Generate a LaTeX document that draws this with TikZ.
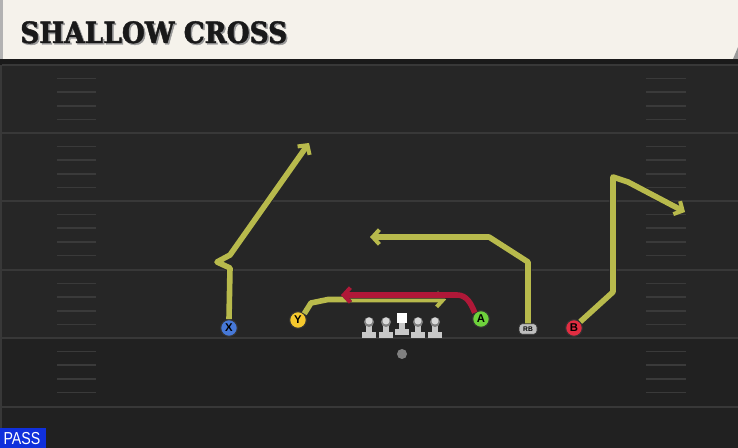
\documentclass[tikz,border=0pt]{standalone}
\usepackage{fontspec}
\usepackage{tikz}
\usetikzlibrary{arrows.meta, positioning}
\newfontfamily\titlefont{DejaVu Serif}[FakeStretch=0.9, FakeBold=1.6]
\newfontfamily\labelfont{Liberation Sans}
\newfontfamily\passfont{Liberation Sans}[FakeStretch=0.82]
\definecolor{cream}{RGB}{245,242,235}
\definecolor{headband}{RGB}{26,26,26}
\definecolor{field}{RGB}{38,38,38}
\definecolor{fieldlow}{RGB}{33,33,33}
\definecolor{yardline}{RGB}{56,56,56}
\definecolor{hashmark}{RGB}{58,58,58}
\definecolor{routeolive}{RGB}{184,186,76}
\definecolor{blockred}{RGB}{176,24,56}
\definecolor{xblue}{RGB}{70,120,215}
\definecolor{yyellow}{RGB}{245,200,45}
\definecolor{agreen}{RGB}{110,210,60}
\definecolor{bred}{RGB}{225,45,65}
\definecolor{rbgray}{RGB}{190,190,190}
\definecolor{olgray}{RGB}{200,200,200}
\definecolor{passblue}{RGB}{16,48,220}

\begin{document}
\begin{tikzpicture}[x=0.75pt, y=-0.75pt,
    player/.style={circle, draw=black!80, line width=0.8pt, inner sep=0pt, minimum size=12.5pt,
        font=\labelfont\bfseries\fontsize{8.5}{8.5}\selectfont},
    route/.style={draw=#1, line width=4.2pt, line join=round,
        -{Straight Barb[length=5pt, width=11pt, line width=3pt]},
        preaction={draw=black!85, line width=5.6pt}},
    route/.default=routeolive,
    yard/.style={draw=yardline, line width=1.3pt},
    hash/.style={draw=hashmark, line width=1.1pt}]
    \useasboundingbox (0,0) rectangle (738,448);

    % Campo
    \fill[field] (0,59) rectangle (738,338);
    \fill[fieldlow] (0,338) rectangle (738,448);
    \fill[headband] (0,59) rectangle (738,65);
    \draw[yardline, line width=1.3pt] (1,65) -- (1,448);
    \foreach \yl in {65,133,201,270,338,407}
        \draw[yard] (2,\yl) -- (738,\yl);
    \foreach \yl in {65,133,201,270,338}
        \foreach \k in {1,...,4} {
            \draw[hash] (57,{\yl+13.6*\k}) -- (96,{\yl+13.6*\k});
            \draw[hash] (646,{\yl+13.6*\k}) -- (686,{\yl+13.6*\k});
        }

    % Cabecera
    \fill[cream] (0,0) -- (738,0) -- (738,47) -- (733,59) -- (0,59) -- cycle;
    \fill[black!40] (738,47) -- (738,59) -- (733,59) -- cycle;
    \fill[black!30] (0,0) rectangle (3,59);
    \node[anchor=base west, inner sep=0pt, text=black!40,
          font=\titlefont\bfseries\fontsize{22}{22}\selectfont] at (21.5,44.5) {SHALLOW CROSS};
    \node[anchor=base west, inner sep=0pt, text=black!90,
          font=\titlefont\bfseries\fontsize{22}{22}\selectfont] (title) at (20,43) {SHALLOW CROSS};

    % Linea ofensiva
    \foreach \lx in {369,386,418,435} {
        \fill[olgray] (\lx-7,332.5) rectangle (\lx+7,338.5);
        \fill[olgray] (\lx-3,322) rectangle (\lx+3,333);
        \fill[black!50] (\lx,322) circle (5);
        \fill[olgray!70] (\lx,321) circle (3.5);
    }
    \fill[olgray] (395,329.5) rectangle (409,335.5);
    \fill[olgray] (399,322) rectangle (405,330);
    \fill[white] (397,313) rectangle (407,323);
    \node[circle, fill=black!50, inner sep=0pt, minimum size=7.5pt] (qb) at (402,354) {};

    % Jugadores
    \node[player, fill=xblue] (X) at (229,328) {X};
    \node[player, fill=yyellow] (Y) at (298,320) {Y};
    \node[player, fill=agreen] (A) at (481,319) {A};
    \node[player, fill=bred] (B) at (574,328) {B};
    \node[draw=black!80, fill=rbgray, rounded corners=2.5pt, line width=0.6pt, inner sep=0pt,
          minimum width=13.5pt, minimum height=8pt,
          font=\labelfont\bfseries\fontsize{5}{5}\selectfont] (rb) at (528,329) {RB};

    % Rutas
    \draw[route] (X.north) -- (230,268) -- (217,262) -- (230,255) -- (309,143);
    \draw[route] (Y.north east) -- (311,303) -- (328,299.5) -- (446,299.5);
    \draw[route=blockred] (A.north west) to[out=112, in=0] (457,295) -- (341,295);
    \draw[route] (rb.north) -- (528,262) -- (489,237) -- (370,237);
    \draw[route] (B.north east) -- (613,292) -- (613,177) -- (628,182) -- (685,212);

    % Etiqueta
    \fill[passblue] (0,428) rectangle (46,448);
    \node[text=white, inner sep=0pt, font=\passfont\fontsize{13}{13}\selectfont] (pass) at (22,438.5) {PASS};
\end{tikzpicture}
\end{document}
